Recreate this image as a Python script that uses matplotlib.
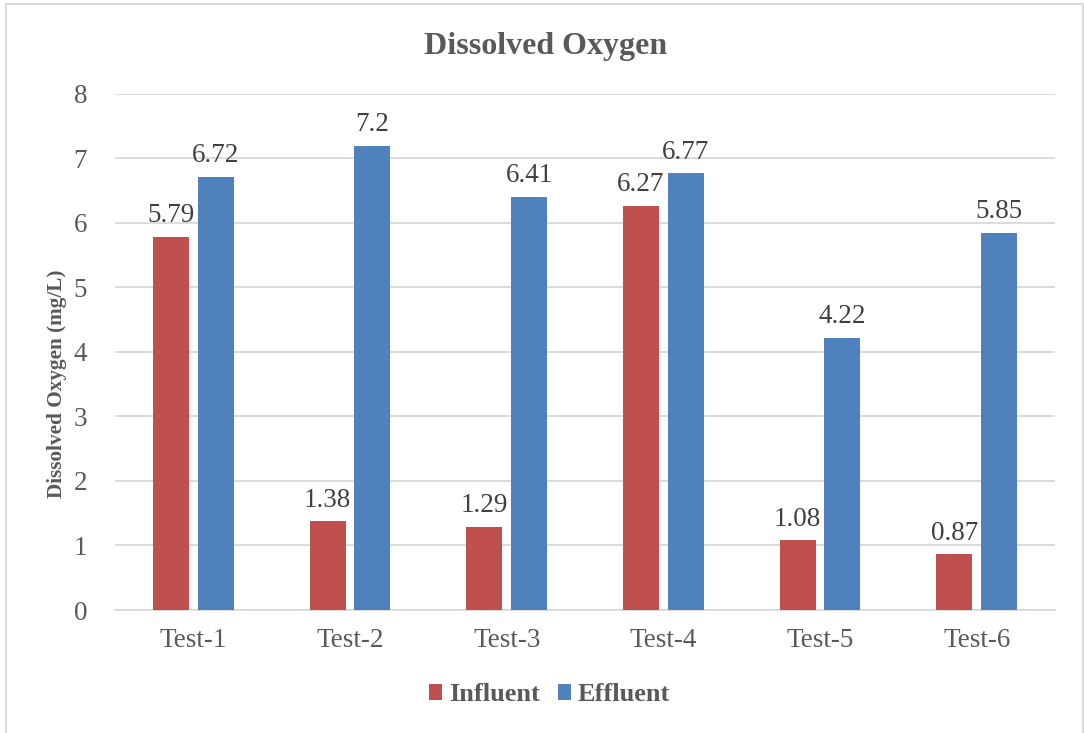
import matplotlib
matplotlib.use("Agg")
import matplotlib.pyplot as plt
import numpy as np
from matplotlib.patches import Rectangle

categories = ["Test-1", "Test-2", "Test-3", "Test-4", "Test-5", "Test-6"]
influent = [5.79, 1.38, 1.29, 6.27, 1.08, 0.87]
effluent = [6.72, 7.2, 6.41, 6.77, 4.22, 5.85]
y_ticks = [0, 1, 2, 3, 4, 5, 6, 7, 8]

RED = "#C0504D"
BLUE = "#4F81BD"
TEXT = "#595959"
GRID = "#D9D9D9"

plt.rcParams["font.family"] = ["Liberation Serif", "DejaVu Serif"]

fig = plt.figure(figsize=(10.84, 7.33), dpi=100)
ax = fig.add_axes([0.1061, 0.1678, 0.8672, 0.7040])

x = np.arange(len(categories))
w = 0.23
off = 0.143
b1 = ax.bar(x - off, influent, w, color=RED, label="Influent", zorder=3)
b2 = ax.bar(x + off, effluent, w, color=BLUE, label="Effluent", zorder=3)

for bars, vals in ((b1, influent), (b2, effluent)):
    for r, v in zip(bars, vals):
        ax.annotate(f"{v:g}", (r.get_x() + r.get_width() / 2, v),
                    xytext=(0, 6), textcoords="offset points",
                    ha="center", va="bottom", fontsize=19.5, color="#404040")

ax.set_xlim(-0.5, len(categories) - 0.5)
ax.set_ylim(0, 8)
ax.set_yticks(y_ticks)
ax.set_xticks(x)
ax.set_xticklabels(categories)
ax.tick_params(axis="both", length=0, labelsize=19.5, labelcolor=TEXT)
ax.tick_params(axis="y", pad=20)
ax.tick_params(axis="x", pad=13)
ax.yaxis.grid(True, color=GRID, linewidth=1.3, zorder=0)
for s in ("top", "right", "left"):
    ax.spines[s].set_visible(False)
ax.spines["bottom"].set_color(GRID)
ax.spines["bottom"].set_linewidth(1.3)

ax.set_ylabel("Dissolved Oxygen (mg/L)", fontsize=15.3, fontweight="bold",
              color=TEXT, va="center")
ax.yaxis.set_label_coords(-0.0617, 0.438)
fig.text(0.503, 0.936, "Dissolved Oxygen", ha="center", va="center",
         fontsize=23, fontweight="bold", color=TEXT)

leg = fig.legend(handles=[b1, b2], labels=["Influent", "Effluent"],
                 loc="center", bbox_to_anchor=(0.507, 0.052), ncol=2,
                 frameon=False, handlelength=0.5, handleheight=0.5,
                 handletextpad=0.25, columnspacing=0.7,
                 prop={"size": 19, "weight": "bold"})
for t in leg.get_texts():
    t.set_color(TEXT)

fig.patches.append(Rectangle((6 / 1084, -0.01), 1077 / 1084, 1 - 4 / 733 + 0.01,
                             transform=fig.transFigure, fill=False,
                             edgecolor=GRID, linewidth=1.5))

fig.savefig("out.png", dpi=100)
